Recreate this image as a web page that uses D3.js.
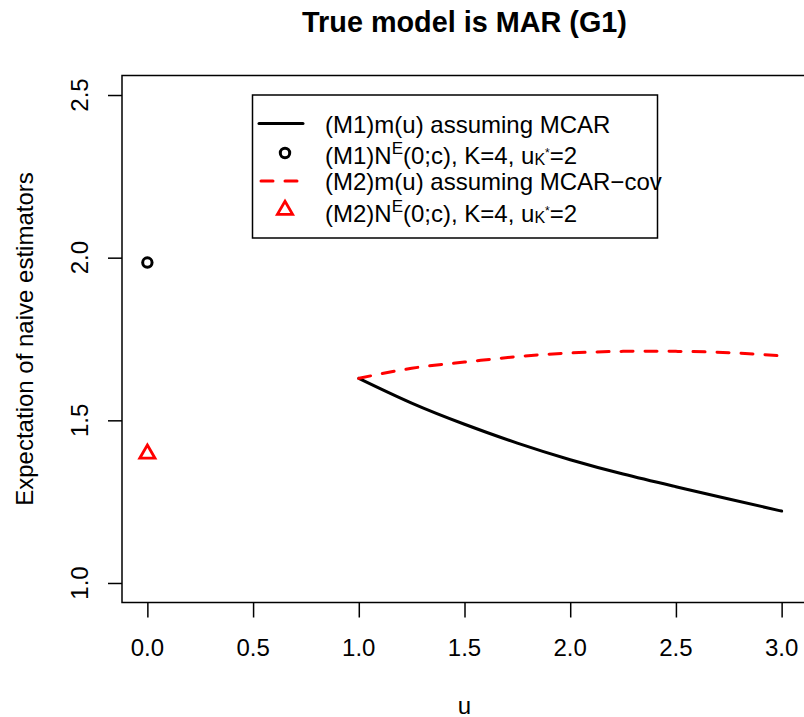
<!DOCTYPE html>
<html>
<head>
<meta charset="utf-8">
<script src="https://cdn.jsdelivr.net/npm/d3@7"></script>
<style>
  body { margin: 0; background: #fff; overflow: hidden; }
  svg { display: block; }
  text { font-family: "Liberation Sans", Arial, sans-serif; }
</style>
</head>
<body>
<script>
// values
var uGrid = [1, 1.25, 1.5, 1.75, 2, 2.25, 2.5, 2.75, 3];
var m1Values = [1.629, 1.553, 1.488, 1.43, 1.379, 1.335, 1.296, 1.258, 1.221];
var m2Values = [1.629, 1.66, 1.679, 1.696, 1.707, 1.712, 1.712, 1.708, 1.698];
var pointM1 = { u: 0, y: 1.985 };
var pointM2 = { u: 0, y: 1.397 };
var xTicks = [0, 0.5, 1, 1.5, 2, 2.5, 3];
var yTicks = [1, 1.5, 2, 2.5];

var width = 804;
var height = 717;
var box = { left: 122, right: 807, top: 75.5, bottom: 602.5 };

var svg = d3.select('body').append('svg')
  .attr('width', width)
  .attr('height', height);

// R style: 4% padding around the data range
var x = d3.scaleLinear().domain([-0.12, 3.12]).range([box.left, box.right]);
var y = d3.scaleLinear().domain([0.94, 2.56]).range([box.bottom, box.top]);
var fmt = d3.format('.1f');

svg.append('rect')
  .attr('x', box.left).attr('y', box.top)
  .attr('width', box.right - box.left).attr('height', box.bottom - box.top)
  .attr('fill', 'none').attr('stroke', '#000').attr('stroke-width', 1.5);

// x axis: ticks from d3, labels placed by hand under them
var xAxis = svg.append('g')
  .attr('transform', 'translate(0,' + box.bottom + ')')
  .call(d3.axisBottom(x).tickValues(xTicks).tickSize(15).tickFormat(''));
xAxis.select('.domain').remove();
xAxis.selectAll('line').attr('stroke-width', 1.5);

svg.append('g').selectAll('text')
  .data(xTicks)
  .enter().append('text')
  .attr('x', function(d) { return x(d); })
  .attr('y', box.bottom + 53)
  .attr('text-anchor', 'middle')
  .style('font-size', '24px')
  .text(fmt);

// y axis
var yAxis = svg.append('g')
  .attr('transform', 'translate(' + box.left + ',0)')
  .call(d3.axisLeft(y).tickValues(yTicks).tickSize(14).tickFormat(''));
yAxis.select('.domain').remove();
yAxis.selectAll('line').attr('stroke-width', 1.5);

svg.append('g').selectAll('text')
  .data(yTicks)
  .enter().append('text')
  .attr('transform', function(d) { return 'translate(88,' + y(d) + ') rotate(-90)'; })
  .attr('text-anchor', 'middle')
  .style('font-size', '24px')
  .text(fmt);

// titles
var midX = (box.left + box.right) / 2;
svg.append('text')
  .attr('x', midX).attr('y', 31.5)
  .attr('text-anchor', 'middle')
  .style('font-size', '28.8px').style('font-weight', 'bold')
  .text('True model is MAR (G1)');

svg.append('text')
  .attr('x', midX).attr('y', 713.5)
  .attr('text-anchor', 'middle')
  .style('font-size', '24px')
  .text('u');

svg.append('text')
  .attr('transform', 'translate(33,' + ((box.top + box.bottom) / 2) + ') rotate(-90)')
  .attr('text-anchor', 'middle')
  .style('font-size', '24px')
  .text('Expectation of naive estimators');

// lines
var line = d3.line()
  .x(function(d) { return x(d.u); })
  .y(function(d) { return y(d.v); })
  .curve(d3.curveNatural);

var m1Data = uGrid.map(function(u, i) { return { u: u, v: m1Values[i] }; });
var m2Data = uGrid.map(function(u, i) { return { u: u, v: m2Values[i] }; });

svg.append('path')
  .attr('d', line(m1Data))
  .attr('fill', 'none').attr('stroke', '#000')
  .attr('stroke-width', 3).attr('stroke-linecap', 'round');

svg.append('path')
  .attr('d', line(m2Data))
  .attr('fill', 'none').attr('stroke', '#ff0000')
  .attr('stroke-width', 3).attr('stroke-linecap', 'round')
  .attr('stroke-dasharray', '12,12');

// points
svg.append('circle')
  .attr('cx', x(pointM1.u)).attr('cy', y(pointM1.y)).attr('r', 4.7)
  .attr('fill', 'none').attr('stroke', '#000').attr('stroke-width', 3);

var tri = d3.symbol().type(d3.symbolTriangle).size(100);
svg.append('path')
  .attr('d', tri())
  .attr('transform', 'translate(' + x(pointM2.u) + ',' + y(pointM2.y) + ')')
  .attr('fill', 'none').attr('stroke', '#ff0000').attr('stroke-width', 2.8);

// legend
var legend = svg.append('g');
legend.append('rect')
  .attr('x', 252.5).attr('y', 95).attr('width', 405).attr('height', 143)
  .attr('fill', '#fff').attr('stroke', '#000').attr('stroke-width', 1.5);

var rowY = [123.5, 153, 181, 210];
var symX = 285;
var textX = 325;

legend.append('line')
  .attr('x1', 259).attr('x2', 303).attr('y1', rowY[0]).attr('y2', rowY[0])
  .attr('stroke', '#000').attr('stroke-width', 3).attr('stroke-linecap', 'round');
legend.append('circle')
  .attr('cx', symX).attr('cy', rowY[1]).attr('r', 4.7)
  .attr('fill', 'none').attr('stroke', '#000').attr('stroke-width', 3);
legend.append('line')
  .attr('x1', 261).attr('x2', 303).attr('y1', rowY[2]).attr('y2', rowY[2])
  .attr('stroke', '#ff0000').attr('stroke-width', 3).attr('stroke-linecap', 'round')
  .attr('stroke-dasharray', '12,12');
legend.append('path')
  .attr('d', tri())
  .attr('transform', 'translate(' + symX + ',' + rowY[3] + ')')
  .attr('fill', 'none').attr('stroke', '#ff0000').attr('stroke-width', 2.8);

legend.append('text')
  .attr('x', textX).attr('y', rowY[0] + 9)
  .style('font-size', '24px')
  .text('(M1)m(u) assuming MCAR');
legend.append('text')
  .attr('x', textX).attr('y', rowY[2] + 8.5)
  .style('font-size', '24px')
  .text('(M2)m(u) assuming MCAR\u2212cov');

var exprRow = function(label, yy) {
  var t = legend.append('text')
    .attr('x', textX).attr('y', yy)
    .style('font-size', '24px');
  t.append('tspan').text(label + 'N');
  t.append('tspan').attr('dy', -10).style('font-size', '17px').text('E');
  t.append('tspan').attr('dy', 10).text('(0;c), K=4, u');
  t.append('tspan').attr('dy', 1).style('font-size', '16px').text('K');
  t.append('tspan').attr('dy', -8).style('font-size', '12px').text('*');
  t.append('tspan').attr('dy', 7).text('=2');
};
exprRow('(M1)', rowY[1] + 11);
exprRow('(M2)', rowY[3] + 11.5);
</script>
</body>
</html>
